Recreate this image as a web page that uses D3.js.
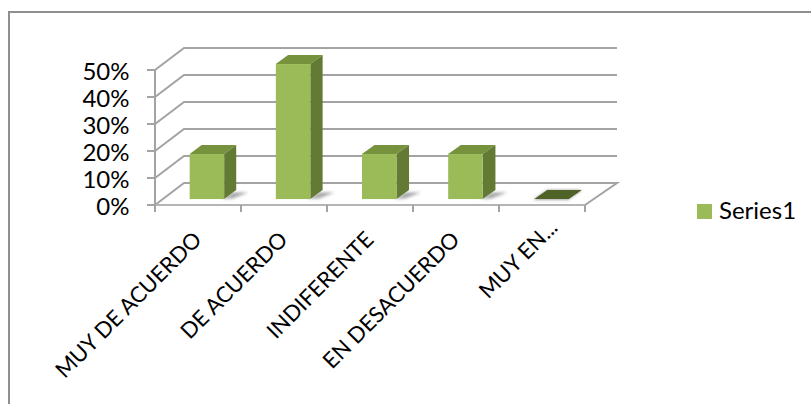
<!DOCTYPE html>
<html><head><meta charset="utf-8">
<script src="https://cdn.jsdelivr.net/npm/d3@7"></script>
<style>html,body{margin:0;padding:0;background:#fff}svg{display:block}text{font-family:"Lato",sans-serif;fill:#000}</style>
</head><body><svg id="c" width="811" height="404"></svg>
<script>
const categories = ["MUY DE ACUERDO","DE ACUERDO","INDIFERENTE","EN DESACUERDO","MUY EN..."];
const values = [0.1667,0.5,0.1667,0.1667,0];
const yTicks = [0,0.1,0.2,0.3,0.4,0.5];
const seriesName = "Series1";

const svg = d3.select("#c");
const x = d3.scaleBand().domain(categories).range([155,585]).padding(0);
const y = d3.scaleLinear().domain([0,0.5]).range([205,70]);
const DY = 22;
const dxAt = px => 29 + (px-155)/430*3;
const P = (px,v,d)=>[px+d*dxAt(px), y(v)-d*DY];
const line = d3.line();

const defs = svg.append("defs");
defs.append("filter").attr("id","sh").attr("x","-30%").attr("y","-100%").attr("width","160%").attr("height","300%")
  .append("feGaussianBlur").attr("stdDeviation",1.8);

// frame
svg.append("rect").attr("x",9).attr("y",12).attr("width",900).attr("height",500)
  .attr("fill","#fff").attr("stroke","#8f8f8f").attr("stroke-width",2);

const grid = "#a3a3a3";
const g = svg.append("g").attr("fill","none").attr("stroke",grid).attr("stroke-width",2);
yTicks.slice(1).forEach(t=>{
  g.append("path").attr("d",line([P(155,t,0),P(155,t,1),P(585,t,1)]));
});
g.append("path").attr("d",line([P(155,0,0),P(155,0,1),P(585,0,1),P(585,0,0)]));
g.append("path").attr("d",line([P(155,0,0),P(585,0,0)])).attr("stroke","#b5b5b5");
g.append("path").attr("d",line([[155,y(0.5)],[155,212]]));
yTicks.forEach(t=>g.append("path").attr("d",line([[147,y(t)],[155,y(t)]])));
d3.range(6).forEach(i=>{
  const px = 155+i*x.bandwidth();
  g.append("path").attr("d",line([[px,205],[px,212]]));
});

// bars
const d0=0.27, d1=0.68, barFrac=0.4, barShift=1;
const bw = x.bandwidth()*barFrac;
const bars = svg.append("g").selectAll("g").data(categories.map((c,i)=>({c,v:values[i]}))).join("g");
bars.each(function(d){
  const s = d3.select(this);
  const cx = x(d.c)+x.bandwidth()/2+barShift;
  const l = cx-bw/2, r = cx+bw/2;
  const poly = pts=>line(pts)+"Z";
  s.append("path").attr("d",poly([P(r-2,0,d0),P(r+8,0,d0+0.02),P(r+15,0,d0+0.3),P(r,0,d0+0.3)]))
    .attr("fill","#8a8a8a").attr("opacity",d.v>0?0.75:0).attr("filter","url(#sh)");
  if(d.v===0){
    s.append("path").attr("d",poly([P(l,0,d0-0.03),P(r,0,d0-0.03),P(r,0,d1),P(l,0,d1)]))
      .attr("fill","#999").attr("filter","url(#sh)");
    s.append("path").attr("d",poly([P(l,0,d0),P(r,0,d0),P(r,0,d1),P(l,0,d1)])).attr("fill","#4f6228");
    return;
  }
  s.append("path").attr("d",poly([P(l,d.v,d0),P(r,d.v,d0),P(r,d.v,d1),P(l,d.v,d1)])).attr("fill","#76923c");
  s.append("path").attr("d",poly([P(r,0,d0),P(r,0,d1),P(r,d.v,d1),P(r,d.v,d0)])).attr("fill","#637a35");
  const f0=P(l,d.v,d0), f1=P(r,0,d0);
  s.append("rect").attr("x",f0[0]).attr("y",f0[1]).attr("width",f1[0]-f0[0]).attr("height",f1[1]-f0[1]).attr("fill","#9bbb59");
});

// y labels
svg.append("g").selectAll("text").data(yTicks).join("text")
  .attr("x",129.5).attr("y",d=>y(d)+9.5).attr("text-anchor","end").attr("font-size",24)
  .text(d3.format(".0%"));

// x labels (the truncated label sits further along the diagonal)
svg.append("g").selectAll("text").data(categories).join("text")
  .attr("text-anchor","end").attr("font-size",22)
  .attr("transform",d=>{
    const along = d.endsWith("...") ? 12 : 0;
    return `translate(${x(d)+x.bandwidth()-38+along},${241-along}) rotate(-45)`;
  })
  .text(d=>d);

// legend
svg.append("rect").attr("x",697).attr("y",204).attr("width",15).attr("height",15).attr("fill","#9bbb59");
svg.append("text").attr("x",719).attr("y",219).attr("font-size",24).text(seriesName);
</script></body></html>
